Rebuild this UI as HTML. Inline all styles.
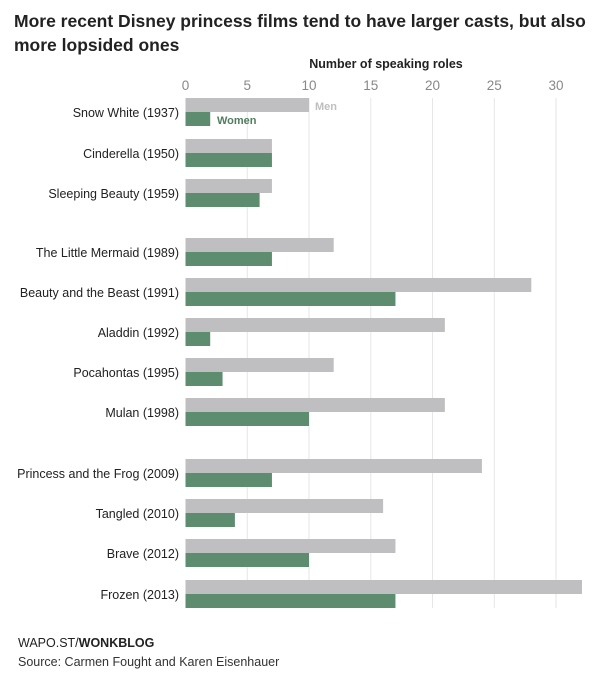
<!DOCTYPE html>
<html><head><style>
body{margin:0;background:#fff;width:600px;height:685px;overflow:hidden;font-family:"Liberation Sans",sans-serif;}
</style></head><body>
<svg width="600" height="685" xmlns="http://www.w3.org/2000/svg" font-family="Liberation Sans, sans-serif">
<text x="14" y="27" font-size="17.5" font-weight="bold" fill="#222">More recent Disney princess films tend to have larger casts, but also</text>
<text x="14" y="51" font-size="17.5" font-weight="bold" fill="#222">more lopsided ones</text>
<text x="386" y="68" font-size="12.5" font-weight="bold" fill="#222" text-anchor="middle">Number of speaking roles</text>
<g font-size="13.5" fill="#888" text-anchor="middle">
<text x="185.5" y="90">0</text><text x="247.3" y="90">5</text><text x="309" y="90">10</text><text x="370.8" y="90">15</text><text x="432.5" y="90">20</text><text x="494.3" y="90">25</text><text x="556" y="90">30</text>
</g>
<g stroke="#e6e6e6" stroke-width="1">
<line x1="247.3" y1="98" x2="247.3" y2="608"/><line x1="309" y1="98" x2="309" y2="608"/><line x1="370.8" y1="98" x2="370.8" y2="608"/><line x1="432.5" y1="98" x2="432.5" y2="608"/><line x1="494.3" y1="98" x2="494.3" y2="608"/><line x1="556" y1="98" x2="556" y2="608"/>
</g>
<g fill="#bfbfc1">
<rect x="185.5" y="98" width="123.5" height="14"/>
<rect x="185.5" y="139" width="86.45" height="14"/>
<rect x="185.5" y="179" width="86.45" height="14"/>
<rect x="185.5" y="238" width="148.2" height="14"/>
<rect x="185.5" y="278" width="345.8" height="14"/>
<rect x="185.5" y="318" width="259.35" height="14"/>
<rect x="185.5" y="358" width="148.2" height="14"/>
<rect x="185.5" y="398" width="259.35" height="14"/>
<rect x="185.5" y="459" width="296.4" height="14"/>
<rect x="185.5" y="499" width="197.6" height="14"/>
<rect x="185.5" y="539" width="209.95" height="14"/>
<rect x="185.5" y="580" width="396.5" height="14"/>
</g>
<g fill="#5e8c6e">
<rect x="185.5" y="112" width="24.7" height="14"/>
<rect x="185.5" y="153" width="86.45" height="14"/>
<rect x="185.5" y="193" width="74.1" height="14"/>
<rect x="185.5" y="252" width="86.45" height="14"/>
<rect x="185.5" y="292" width="209.95" height="14"/>
<rect x="185.5" y="332" width="24.7" height="14"/>
<rect x="185.5" y="372" width="37.05" height="14"/>
<rect x="185.5" y="412" width="123.5" height="14"/>
<rect x="185.5" y="473" width="86.45" height="14"/>
<rect x="185.5" y="513" width="49.4" height="14"/>
<rect x="185.5" y="553" width="123.5" height="14"/>
<rect x="185.5" y="594" width="209.95" height="14"/>
</g>
<g font-size="12.5" fill="#222" text-anchor="end">
<text x="179" y="117">Snow White (1937)</text>
<text x="179" y="158">Cinderella (1950)</text>
<text x="179" y="198">Sleeping Beauty (1959)</text>
<text x="179" y="257">The Little Mermaid (1989)</text>
<text x="179" y="297">Beauty and the Beast (1991)</text>
<text x="179" y="337">Aladdin (1992)</text>
<text x="179" y="377">Pocahontas (1995)</text>
<text x="179" y="417">Mulan (1998)</text>
<text x="179" y="478">Princess and the Frog (2009)</text>
<text x="179" y="518">Tangled (2010)</text>
<text x="179" y="558">Brave (2012)</text>
<text x="179" y="599">Frozen (2013)</text>
</g>
<text x="315" y="110" font-size="11" font-weight="bold" fill="#bfbfc1">Men</text>
<text x="217" y="124" font-size="11" font-weight="bold" fill="#4f7d5f">Women</text>
<text x="18" y="647" font-size="12.5" fill="#222">WAPO.ST/<tspan font-weight="bold">WONKBLOG</tspan></text>
<text x="18" y="666" font-size="12.5" fill="#333">Source: Carmen Fought and Karen Eisenhauer</text>
</svg>
</body></html>
